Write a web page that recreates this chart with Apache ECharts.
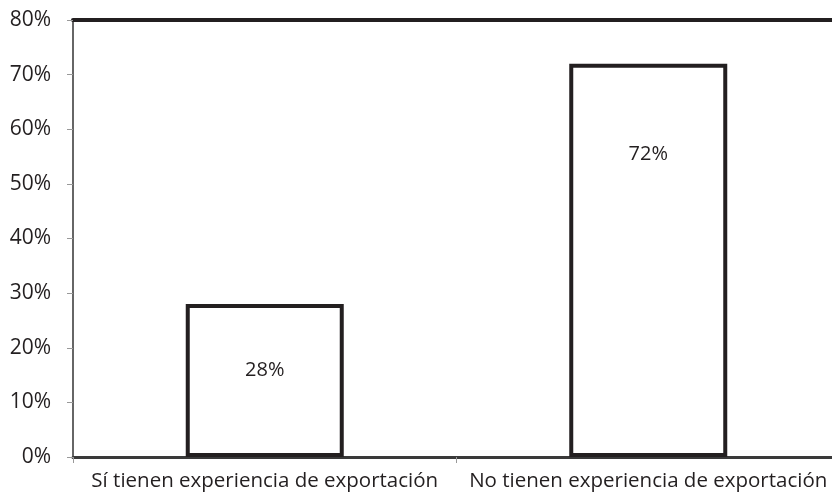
<!DOCTYPE html>
<html><head><meta charset="utf-8">
<script src="https://cdn.jsdelivr.net/npm/echarts@6/dist/echarts.min.js"></script>
<style>html,body{margin:0;padding:0;background:#fff;overflow:hidden;width:832px;height:499px}#c{width:840px;height:499px}</style>
</head><body><div id="c"></div>
<script>
const categories = ['Sí tienen experiencia de exportación', 'No tienen experiencia de exportación'];
const values = [28, 72];
const yTicks = [0, 10, 20, 30, 40, 50, 60, 70, 80];
const labelPos = [['50%', '43%'], ['50%', '23%']];

const chart = echarts.init(document.getElementById('c'));
chart.setOption({
  animation: false,
  grid: { left: 73, right: 0, top: 20, height: 437, containLabel: false },
  xAxis: [{
    type: 'category', data: categories,
    axisLine: { lineStyle: { color: '#3a3a3a', width: 3 } },
    axisTick: { show: true, length: 6, lineStyle: { color: '#999', width: 1 } },
    axisLabel: { fontFamily: 'Open Sans', fontSize: 20.5, color: '#231f20', margin: 14, interval: 0 }
  }, {
    type: 'category', data: categories, position: 'top',
    axisLine: { lineStyle: { color: '#231f20', width: 4 } },
    axisTick: { show: false }, axisLabel: { show: false }
  }],
  yAxis: {
    type: 'value', min: yTicks[0], max: yTicks[yTicks.length - 1], interval: 10,
    axisLine: { show: true, lineStyle: { color: '#666', width: 2 } },
    axisTick: { show: true, length: 6, lineStyle: { color: '#999', width: 1 } },
    splitLine: { show: false },
    axisLabel: { formatter: '{value}%', fontFamily: 'Open Sans', fontSize: 21, color: '#231f20', margin: 22 }
  },
  series: [{
    type: 'bar', barWidth: 158,
    data: values.map((v, i) => ({ value: v, label: { position: labelPos[i] } })),
    itemStyle: { color: '#ffffff', borderColor: '#231f20', borderWidth: 4 },
    label: { show: true, align: 'center', verticalAlign: 'middle', formatter: '{c}%', fontFamily: 'Open Sans', fontSize: 20, color: '#231f20' }
  }]
});
</script></body></html>
